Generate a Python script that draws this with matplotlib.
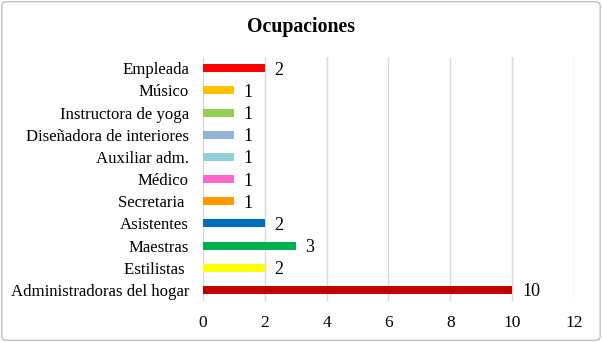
import matplotlib.pyplot as plt
from matplotlib.patches import FancyBboxPatch

# Datos
ocupaciones = ['Administradoras del hogar', 'Estilistas ', 'Maestras', 'Asistentes',
               'Secretaria ', 'Médico', 'Auxiliar adm.', 'Diseñadora de interiores',
               'Instructora de yoga', 'Músico', 'Empleada']
cantidades = [10, 2, 3, 2, 1, 1, 1, 1, 1, 1, 2]
colores = ['#C00000', '#FFFF00', '#00B050', '#0070C0', '#FF9900', '#FF66CC',
           '#92CDDC', '#95B3D7', '#92D050', '#FFC000', '#FF0000']

plt.rcParams['font.family'] = ['Liberation Serif', 'DejaVu Serif']

fig = plt.figure(figsize=(6.02, 3.42), dpi=100)
ax = fig.add_axes([0.337, 0.12, 0.6165, 0.713])

pos = range(len(ocupaciones))
ax.barh(pos, cantidades, height=0.36, color=colores, zorder=3)
for y, v in zip(pos, cantidades):
    ax.text(v + 0.32, y, str(v), va='center_baseline', ha='left', fontsize=13)

ax.set_yticks(list(pos))
ax.set_yticklabels(ocupaciones, fontsize=12.1)
ax.set_xlim(0, 12)
ax.set_ylim(-0.5, len(ocupaciones) - 0.5)
ax.set_xticks(range(0, 13, 2))
ax.tick_params(axis='x', labelsize=12.5, length=0, pad=10)
ax.tick_params(axis='y', length=0, pad=10)
ax.grid(axis='x', color='#D9D9D9', linewidth=1, zorder=0)
for s in ax.spines.values():
    s.set_visible(False)

fig.text(0.5, 0.92, 'Ocupaciones', ha='center', va='center', fontsize=14.3, fontweight='bold')

# Borde del gráfico
borde = FancyBboxPatch((0.003, 0.005), 0.994, 0.99, boxstyle='round,pad=0,rounding_size=0.01',
                       transform=fig.transFigure, facecolor='none', edgecolor='#BFBFBF', linewidth=1)
fig.patches.append(borde)

fig.savefig('out.png', dpi=100)
